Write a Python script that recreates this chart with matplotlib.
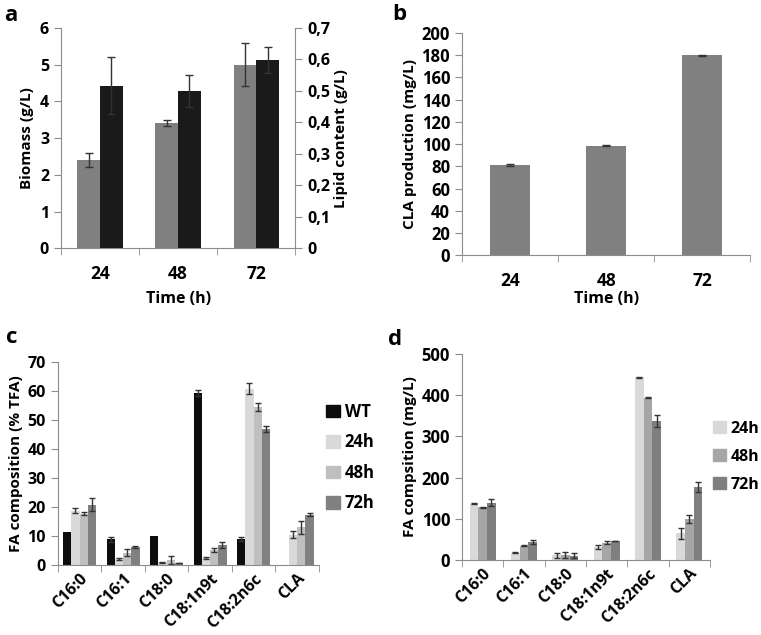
import numpy as np
import matplotlib
matplotlib.use('Agg')
import matplotlib.pyplot as plt
from matplotlib.patches import Patch

plt.rcParams['font.family'] = ['Open Sans', 'DejaVu Sans']
plt.rcParams['font.weight'] = 'bold'

# Panel a data
times = ['24', '48', '72']
biomass = [2.4, 3.4, 5.0]
biomass_err = [0.2, 0.08, 0.58]
lipid = [0.517, 0.50, 0.598]
lipid_err = [0.09, 0.051, 0.04]

# Panel b data
cla_prod = [81.0, 98.5, 180.0]
cla_prod_err = [1.0, 0.5, 0.3]

# Panel c data (% TFA); nan = no error bar shown
fatty_acids = ['C16:0', 'C16:1', 'C18:0', 'C18:1n9t', 'C18:2n6c', 'CLA']
pct_wt = [11.3, 8.9, 10.0, 59.2, 9.0, 0.0]
pct_wt_err = [np.nan, 0.8, np.nan, 1.0, 0.8, np.nan]
pct_24 = [18.8, 2.2, 1.0, 2.5, 60.8, 10.5]
pct_24_err = [0.8, 0.4, 0.1, 0.3, 2.0, 1.3]
pct_48 = [17.7, 4.2, 1.8, 5.2, 54.5, 13.0]
pct_48_err = [0.5, 1.2, 1.3, 0.8, 1.5, 2.2]
pct_72 = [20.8, 6.3, 0.8, 7.0, 46.8, 17.4]
pct_72_err = [2.2, 0.3, 0.1, 1.0, 1.0, 0.5]

# Panel d data (mg/L)
mg_24 = [137, 18, 12, 32, 443, 65]
mg_24_err = [1, 1, 6, 5, 1, 13]
mg_48 = [128, 35, 12, 42, 393, 99]
mg_48_err = [1, 1, 8, 3, 1, 9]
mg_72 = [139, 43, 11, 46, 337, 176]
mg_72_err = [8, 5, 6, 1, 15, 12]

spine_col = '#8c8c8c'
err_kw = dict(ecolor='#333333', elinewidth=1, capsize=3, capthick=1)
fs = 11


def excel_axes(ax, ncat, xfs, yfs, xpad=8):
    for s in ['top', 'right']:
        ax.spines[s].set_visible(False)
    for s in ['left', 'bottom']:
        ax.spines[s].set_color(spine_col)
    ax.set_xlim(-0.5, ncat - 0.5)
    ax.set_xticks(np.arange(ncat))
    ax.set_xticks(np.arange(ncat + 1) - 0.5, minor=True)
    ax.tick_params(axis='x', which='major', length=0, pad=xpad, labelsize=xfs)
    ax.tick_params(axis='x', which='minor', length=5, color=spine_col, direction='out')
    ax.tick_params(axis='y', length=5, color=spine_col, direction='out', labelsize=yfs)


fig = plt.figure(figsize=(7.61, 6.35), dpi=100)

# ---- a ----
ax_a = fig.add_axes([0.080, 0.609, 0.308, 0.347])
x = np.arange(len(times))
w = 0.29
ax_a.bar(x - w / 2, biomass, w, color='#808080', yerr=biomass_err, error_kw=err_kw)
excel_axes(ax_a, len(times), 12.5, 11.5, xpad=12)
ax_a.set_ylim(0, 6)
ax_a.set_xticklabels(times)
ax_a.set_ylabel('Biomass (g/L)', fontsize=fs, fontweight='bold', labelpad=4)
ax_a.set_xlabel('Time (h)', fontsize=fs + 0.5, fontweight='bold', labelpad=6)
ax_a2 = ax_a.twinx()
ax_a2.bar(x + w / 2, lipid, w, color='#1a1a1a', yerr=lipid_err, error_kw=err_kw)
ax_a2.set_ylim(0, 0.7)
ax_a2.set_yticks(np.arange(0, 0.71, 0.1))
ax_a2.set_yticklabels(['0'] + [f'0,{i}' for i in range(1, 8)])
for s in ['top', 'left', 'bottom']:
    ax_a2.spines[s].set_visible(False)
ax_a2.spines['right'].set_color(spine_col)
ax_a2.tick_params(axis='y', length=5, color=spine_col, direction='out', labelsize=11.5)
ax_a2.set_ylabel('Lipid content (g/L)', fontsize=fs, fontweight='bold', labelpad=3)
fig.text(0.006, 0.975, 'a', fontsize=16, fontweight='bold', va='center')

# ---- b ----
ax_b = fig.add_axes([0.607, 0.598, 0.379, 0.350])
ax_b.bar(x, cla_prod, 0.42, color='#808080', yerr=cla_prod_err, error_kw=err_kw)
excel_axes(ax_b, len(times), 12.5, 12, xpad=12)
ax_b.set_ylim(0, 200)
ax_b.set_yticks(np.arange(0, 201, 20))
ax_b.set_xticklabels(times)
ax_b.set_ylabel('CLA production (mg/L)', fontsize=fs, fontweight='bold', labelpad=3)
ax_b.set_xlabel('Time (h)', fontsize=fs + 0.5, fontweight='bold', labelpad=1)
fig.text(0.515, 0.977, 'b', fontsize=16, fontweight='bold', va='center')

# ---- c ----
ax_c = fig.add_axes([0.076, 0.110, 0.343, 0.320])
xc = np.arange(len(fatty_acids))
wc = 0.19
series_c = [(pct_wt, pct_wt_err, '#0d0d0d', 'WT'),
            (pct_24, pct_24_err, '#d9d9d9', '24h'),
            (pct_48, pct_48_err, '#bfbfbf', '48h'),
            (pct_72, pct_72_err, '#808080', '72h')]
for i, (vals, errs, col, lab) in enumerate(series_c):
    ax_c.bar(xc + (i - 1.5) * wc, vals, wc, color=col, label=lab,
             yerr=errs, error_kw=dict(err_kw, capsize=2.5))
excel_axes(ax_c, len(fatty_acids), 11.5, 11.5, xpad=4)
ax_c.set_ylim(0, 70)
ax_c.set_yticks(np.arange(0, 71, 10))
ax_c.set_xticklabels(fatty_acids, rotation=45, ha='right', rotation_mode='anchor')
ax_c.set_ylabel('FA composition (% TFA)', fontsize=fs, fontweight='bold', labelpad=3)
ax_c.legend(handles=[Patch(color=c, label=l) for _, _, c, l in series_c],
            loc='center left', bbox_to_anchor=(0.99, 0.53), frameon=False,
            fontsize=12, handlelength=0.8, handleheight=0.8, handletextpad=0.3,
            labelspacing=0.75, borderaxespad=0.2)
fig.text(0.008, 0.468, 'c', fontsize=16, fontweight='bold', va='center')

# ---- d ----
ax_d = fig.add_axes([0.607, 0.118, 0.326, 0.325])
wd = 0.21
series_d = [(mg_24, mg_24_err, '#d9d9d9', '24h'),
            (mg_48, mg_48_err, '#a6a6a6', '48h'),
            (mg_72, mg_72_err, '#7f7f7f', '72h')]
for i, (vals, errs, col, lab) in enumerate(series_d):
    ax_d.bar(xc + (i - 1) * wd, vals, wd, color=col, label=lab,
             yerr=errs, error_kw=dict(err_kw, capsize=2.5))
excel_axes(ax_d, len(fatty_acids), 11.5, 12, xpad=4)
ax_d.set_ylim(0, 500)
ax_d.set_yticks(np.arange(0, 501, 100))
ax_d.set_xticklabels(fatty_acids, rotation=45, ha='right', rotation_mode='anchor')
ax_d.set_ylabel('FA compsition (mg/L)', fontsize=fs, fontweight='bold', labelpad=3)
ax_d.legend(handles=[Patch(color=c, label=l) for _, _, c, l in series_d],
            loc='center left', bbox_to_anchor=(0.98, 0.50), frameon=False,
            fontsize=11.5, handlelength=0.8, handleheight=0.8, handletextpad=0.3,
            labelspacing=0.75, borderaxespad=0.1)
fig.text(0.510, 0.466, 'd', fontsize=16, fontweight='bold', va='center')

fig.savefig('out.png', dpi=100)
